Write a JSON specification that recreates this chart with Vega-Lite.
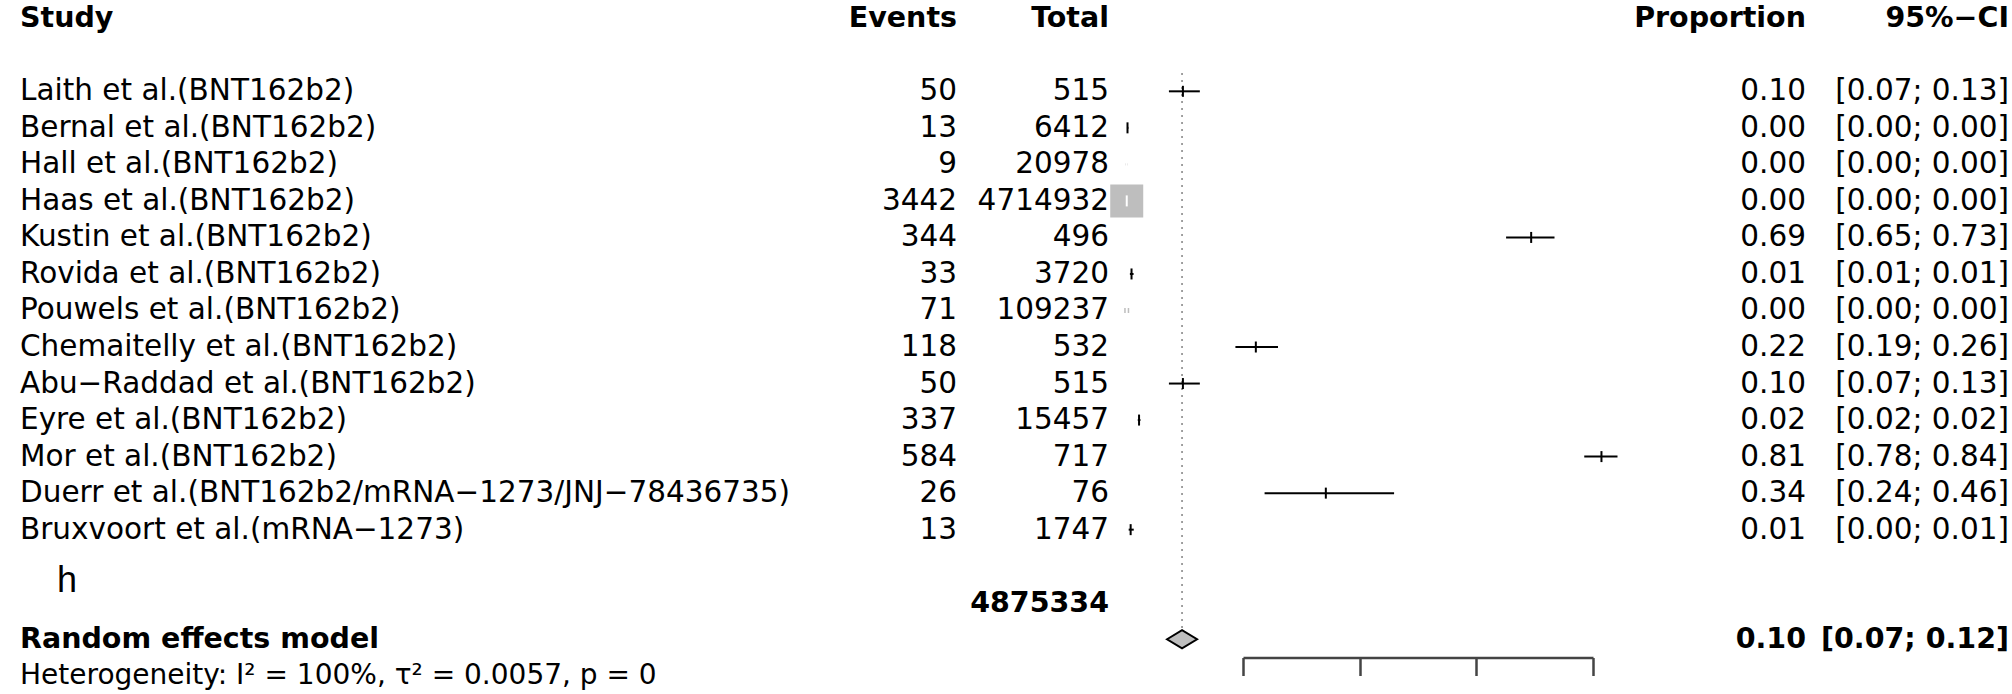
{
  "$schema": "https://vega.github.io/schema/vega-lite/v6.json",
  "padding": {"left": 20, "right": 3, "top": 0, "bottom": 0},
  "spacing": 0,
  "bounds": "flush",
  "config": {
    "view": {"stroke": null},
    "font": "DejaVu Sans",
    "concat": {"spacing": 0},
    "text": {"font": "DejaVu Sans", "fontSize": 29.5, "color": "black", "baseline": "middle"}
  },
  "datasets": {
    "studies": [
      {"row": 2, "study": "Laith et al.(BNT162b2)", "events": 50, "total": 515, "prop": 0.097, "lower": 0.073, "upper": 0.126, "ci": "[0.07; 0.13]"},
      {"row": 3, "study": "Bernal et al.(BNT162b2)", "events": 13, "total": 6412, "prop": 0.002, "lower": 0.0011, "upper": 0.0035, "ci": "[0.00; 0.00]"},
      {"row": 4, "study": "Hall et al.(BNT162b2)", "events": 9, "total": 20978, "prop": 0.0004, "lower": 0.0002, "upper": 0.0008, "ci": "[0.00; 0.00]"},
      {"row": 5, "study": "Haas et al.(BNT162b2)", "events": 3442, "total": 4714932, "prop": 0.0007, "lower": 0.0007, "upper": 0.0008, "ci": "[0.00; 0.00]"},
      {"row": 6, "study": "Kustin et al.(BNT162b2)", "events": 344, "total": 496, "prop": 0.694, "lower": 0.651, "upper": 0.734, "ci": "[0.65; 0.73]"},
      {"row": 7, "study": "Rovida et al.(BNT162b2)", "events": 33, "total": 3720, "prop": 0.0089, "lower": 0.0061, "upper": 0.0124, "ci": "[0.01; 0.01]"},
      {"row": 8, "study": "Pouwels et al.(BNT162b2)", "events": 71, "total": 109237, "prop": 0.00065, "lower": 0.0005, "upper": 0.0008, "ci": "[0.00; 0.00]"},
      {"row": 9, "study": "Chemaitelly et al.(BNT162b2)", "events": 118, "total": 532, "prop": 0.222, "lower": 0.187, "upper": 0.26, "ci": "[0.19; 0.26]"},
      {"row": 10, "study": "Abu−Raddad et al.(BNT162b2)", "events": 50, "total": 515, "prop": 0.097, "lower": 0.073, "upper": 0.126, "ci": "[0.07; 0.13]"},
      {"row": 11, "study": "Eyre et al.(BNT162b2)", "events": 337, "total": 15457, "prop": 0.0218, "lower": 0.0196, "upper": 0.0242, "ci": "[0.02; 0.02]"},
      {"row": 12, "study": "Mor et al.(BNT162b2)", "events": 584, "total": 717, "prop": 0.8145, "lower": 0.785, "upper": 0.842, "ci": "[0.78; 0.84]"},
      {"row": 13, "study": "Duerr et al.(BNT162b2/mRNA−1273/JNJ−78436735)", "events": 26, "total": 76, "prop": 0.342, "lower": 0.237, "upper": 0.459, "ci": "[0.24; 0.46]"},
      {"row": 14, "study": "Bruxvoort et al.(mRNA−1273)", "events": 13, "total": 1747, "prop": 0.0074, "lower": 0.004, "upper": 0.0127, "ci": "[0.00; 0.01]"}
    ],
    "pooled": [
      {"label": "Random effects model", "n": 4875334, "prop": 0.0955, "lower": 0.07, "upper": 0.12, "ci": "[0.07; 0.12]", "het": "Heterogeneity: I² = 100%, τ² = 0.0057, p = 0"}
    ],
    "headers": [
      {"study": "Study", "events": "Events", "total": "Total", "proportion": "Proportion", "ci": "95%−CI"}
    ]
  },
  "hconcat": [
    {
      "width": 840,
      "height": 694,
      "layer": [
        {
          "data": {"name": "headers"},
          "mark": {"type": "text", "align": "left", "fontWeight": "bold", "fontSize": 28.5},
          "encoding": {
            "x": {"value": 0},
            "y": {"datum": 0, "type": "quantitative", "scale": {"domain": [-0.5, 18.5], "reverse": true}, "axis": null},
            "text": {"field": "study"}
          }
        },
        {
          "data": {"name": "studies"},
          "mark": {"type": "text", "align": "left"},
          "encoding": {
            "x": {"value": 0},
            "y": {"field": "row", "type": "quantitative", "scale": {"domain": [-0.5, 18.5], "reverse": true}, "axis": null},
            "text": {"field": "study"}
          }
        },
        {
          "data": {"name": "pooled"},
          "mark": {"type": "text", "align": "left", "fontWeight": "bold", "fontSize": 28.5},
          "encoding": {
            "x": {"value": 0},
            "y": {"datum": 17, "type": "quantitative", "scale": {"domain": [-0.5, 18.5], "reverse": true}, "axis": null},
            "text": {"field": "label"}
          }
        },
        {
          "data": {"name": "pooled"},
          "mark": {"type": "text", "align": "left", "fontSize": 28},
          "encoding": {
            "x": {"value": 0},
            "y": {"datum": 18, "type": "quantitative", "scale": {"domain": [-0.5, 18.5], "reverse": true}, "axis": null},
            "text": {"field": "het"}
          }
        },
        {
          "data": {"values": [{"tag": "h"}]},
          "mark": {"type": "text", "align": "left", "fontSize": 36, "dx": 37, "font": "Liberation Sans"},
          "encoding": {
            "x": {"value": 0},
            "y": {"datum": 15.4, "type": "quantitative", "scale": {"domain": [-0.5, 18.5], "reverse": true}, "axis": null},
            "text": {"field": "tag"}
          }
        }
      ]
    },
    {
      "width": 97,
      "height": 694,
      "layer": [
        {
          "data": {"name": "headers"},
          "mark": {"type": "text", "align": "right", "fontWeight": "bold", "fontSize": 28.5},
          "encoding": {
            "x": {"value": "width"},
            "y": {"datum": 0, "type": "quantitative", "scale": {"domain": [-0.5, 18.5], "reverse": true}, "axis": null},
            "text": {"field": "events"}
          }
        },
        {
          "data": {"name": "studies"},
          "mark": {"type": "text", "align": "right"},
          "encoding": {
            "x": {"value": "width"},
            "y": {"field": "row", "type": "quantitative", "scale": {"domain": [-0.5, 18.5], "reverse": true}, "axis": null},
            "text": {"field": "events", "type": "quantitative", "format": "d"}
          }
        }
      ]
    },
    {
      "width": 152,
      "height": 694,
      "layer": [
        {
          "data": {"name": "headers"},
          "mark": {"type": "text", "align": "right", "fontWeight": "bold", "fontSize": 28.5},
          "encoding": {
            "x": {"value": "width"},
            "y": {"datum": 0, "type": "quantitative", "scale": {"domain": [-0.5, 18.5], "reverse": true}, "axis": null},
            "text": {"field": "total"}
          }
        },
        {
          "data": {"name": "studies"},
          "mark": {"type": "text", "align": "right"},
          "encoding": {
            "x": {"value": "width"},
            "y": {"field": "row", "type": "quantitative", "scale": {"domain": [-0.5, 18.5], "reverse": true}, "axis": null},
            "text": {"field": "total", "type": "quantitative", "format": "d"}
          }
        },
        {
          "data": {"name": "pooled"},
          "mark": {"type": "text", "align": "right", "fontWeight": "bold", "fontSize": 28.5},
          "encoding": {
            "x": {"value": "width"},
            "y": {"datum": 16, "type": "quantitative", "scale": {"domain": [-0.5, 18.5], "reverse": true}, "axis": null},
            "text": {"field": "n", "type": "quantitative", "format": "d"}
          }
        }
      ]
    },
    {
      "width": 134,
      "height": 694,
      "data": {"values": [{"t": ""}]},
      "mark": {"type": "text"},
      "encoding": {"text": {"field": "t"}}
    },
    {
      "width": 350,
      "height": 657.5,
      "layer": [
        {
          "data": {"name": "pooled"},
          "mark": {"type": "rule", "color": "#8a8a8a", "strokeWidth": 1.6, "strokeDash": [2, 5]},
          "encoding": {
            "x": {"field": "prop", "type": "quantitative", "scale": {"domain": [0.2, 0.8], "nice": false, "zero": false},
                  "axis": {"values": [0.2, 0.4, 0.6, 0.8], "labels": false, "title": null, "grid": false, "tickSize": 18, "tickWidth": 2.5, "domainWidth": 2.5, "domainColor": "#444444", "tickColor": "#444444"}},
            "y": {"datum": 1.5, "type": "quantitative", "scale": {"domain": [-0.5, 17.5], "reverse": true}, "axis": null},
            "y2": {"datum": 16.75}
          }
        },
        {
          "data": {"name": "studies"},
          "mark": {"type": "point", "shape": "square", "filled": true, "color": "#bebebe", "opacity": 1, "strokeWidth": 0},
          "encoding": {
            "x": {"field": "prop", "type": "quantitative", "scale": {"domain": [0.2, 0.8], "nice": false, "zero": false},
                  "axis": {"values": [0.2, 0.4, 0.6, 0.8], "labels": false, "title": null, "grid": false, "tickSize": 18, "tickWidth": 2.5, "domainWidth": 2.5, "domainColor": "#444444", "tickColor": "#444444"}},
            "y": {"field": "row", "type": "quantitative", "scale": {"domain": [-0.5, 17.5], "reverse": true}, "axis": null},
            "size": {"field": "total", "type": "quantitative", "scale": {"type": "linear", "domain": [0, 4714932], "range": [0, 1089]}, "legend": null}
          }
        },
        {
          "data": {"name": "studies"},
          "mark": {"type": "rule", "strokeWidth": 2},
          "encoding": {
            "x": {"field": "lower", "type": "quantitative", "scale": {"domain": [0.2, 0.8], "nice": false, "zero": false},
                  "axis": {"values": [0.2, 0.4, 0.6, 0.8], "labels": false, "title": null, "grid": false, "tickSize": 18, "tickWidth": 2.5, "domainWidth": 2.5, "domainColor": "#444444", "tickColor": "#444444"}},
            "x2": {"field": "upper"},
            "y": {"field": "row", "type": "quantitative", "scale": {"domain": [-0.5, 17.5], "reverse": true}, "axis": null},
            "color": {"condition": {"test": "datum.total > 20000", "value": "white"}, "value": "black"}
          }
        },
        {
          "data": {"name": "studies"},
          "mark": {"type": "tick", "orient": "vertical", "size": 11, "thickness": 2, "opacity": 1},
          "encoding": {
            "x": {"field": "prop", "type": "quantitative", "scale": {"domain": [0.2, 0.8], "nice": false, "zero": false},
                  "axis": {"values": [0.2, 0.4, 0.6, 0.8], "labels": false, "title": null, "grid": false, "tickSize": 18, "tickWidth": 2.5, "domainWidth": 2.5, "domainColor": "#444444", "tickColor": "#444444"}},
            "y": {"field": "row", "type": "quantitative", "scale": {"domain": [-0.5, 17.5], "reverse": true}, "axis": null},
            "color": {"condition": {"test": "datum.total > 20000", "value": "white"}, "value": "black"}
          }
        },
        {
          "data": {"name": "pooled"},
          "mark": {"type": "point", "shape": "M-1,0L0,-0.6L1,0L0,0.6Z", "size": 900, "filled": true, "fill": "#bebebe", "stroke": "black", "strokeWidth": 2, "opacity": 1},
          "encoding": {
            "x": {"field": "prop", "type": "quantitative", "scale": {"domain": [0.2, 0.8], "nice": false, "zero": false},
                  "axis": {"values": [0.2, 0.4, 0.6, 0.8], "labels": false, "title": null, "grid": false, "tickSize": 18, "tickWidth": 2.5, "domainWidth": 2.5, "domainColor": "#444444", "tickColor": "#444444"}},
            "y": {"datum": 17, "type": "quantitative", "scale": {"domain": [-0.5, 17.5], "reverse": true}, "axis": null}
          }
        }
      ]
    },
    {
      "width": 213,
      "height": 694,
      "layer": [
        {
          "data": {"name": "headers"},
          "mark": {"type": "text", "align": "right", "fontWeight": "bold", "fontSize": 28.5},
          "encoding": {
            "x": {"value": "width"},
            "y": {"datum": 0, "type": "quantitative", "scale": {"domain": [-0.5, 18.5], "reverse": true}, "axis": null},
            "text": {"field": "proportion"}
          }
        },
        {
          "data": {"name": "studies"},
          "mark": {"type": "text", "align": "right"},
          "encoding": {
            "x": {"value": "width"},
            "y": {"field": "row", "type": "quantitative", "scale": {"domain": [-0.5, 18.5], "reverse": true}, "axis": null},
            "text": {"field": "prop", "type": "quantitative", "format": ".2f"}
          }
        },
        {
          "data": {"name": "pooled"},
          "mark": {"type": "text", "align": "right", "fontWeight": "bold", "fontSize": 28.5},
          "encoding": {
            "x": {"value": "width"},
            "y": {"datum": 17, "type": "quantitative", "scale": {"domain": [-0.5, 18.5], "reverse": true}, "axis": null},
            "text": {"field": "prop", "type": "quantitative", "format": ".2f"}
          }
        }
      ]
    },
    {
      "width": 203,
      "height": 694,
      "layer": [
        {
          "data": {"name": "headers"},
          "mark": {"type": "text", "align": "right", "fontWeight": "bold", "fontSize": 28.5},
          "encoding": {
            "x": {"value": "width"},
            "y": {"datum": 0, "type": "quantitative", "scale": {"domain": [-0.5, 18.5], "reverse": true}, "axis": null},
            "text": {"field": "ci"}
          }
        },
        {
          "data": {"name": "studies"},
          "mark": {"type": "text", "align": "right"},
          "encoding": {
            "x": {"value": "width"},
            "y": {"field": "row", "type": "quantitative", "scale": {"domain": [-0.5, 18.5], "reverse": true}, "axis": null},
            "text": {"field": "ci"}
          }
        },
        {
          "data": {"name": "pooled"},
          "mark": {"type": "text", "align": "right", "fontWeight": "bold", "fontSize": 28.5},
          "encoding": {
            "x": {"value": "width"},
            "y": {"datum": 17, "type": "quantitative", "scale": {"domain": [-0.5, 18.5], "reverse": true}, "axis": null},
            "text": {"field": "ci"}
          }
        }
      ]
    }
  ]
}
